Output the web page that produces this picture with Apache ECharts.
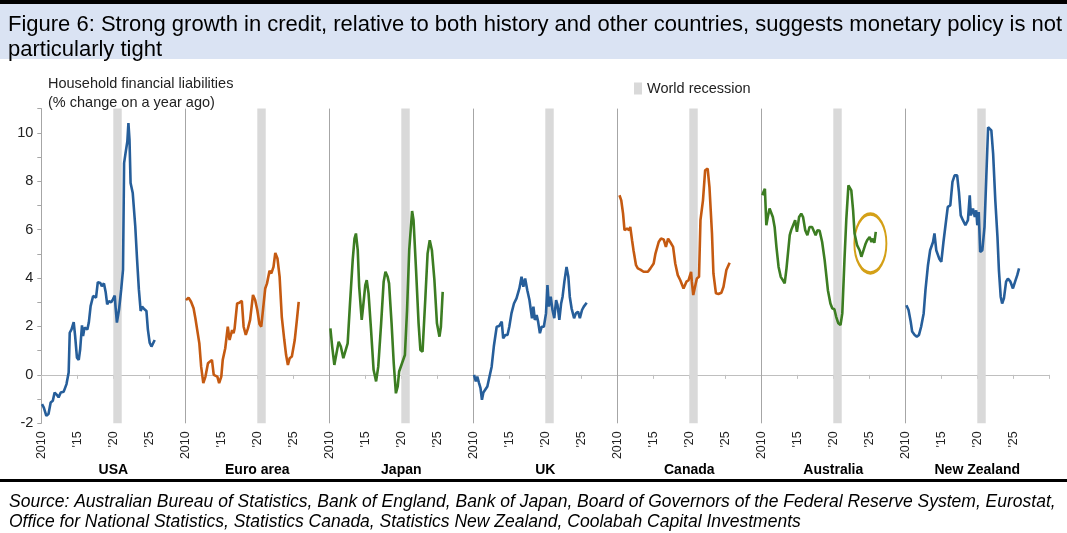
<!DOCTYPE html>
<html><head><meta charset="utf-8">
<script src="https://cdn.jsdelivr.net/npm/echarts@6/dist/echarts.min.js"></script>
<style>html,body{margin:0;padding:0;background:#fff}#c{width:1067px;height:533px}</style>
</head><body><div id="c"></div>
<script>
const countries = ['USA','Euro area','Japan','UK','Canada','Australia','New Zealand'];
const yearTickLabels = ['2010',"'15","'20","'25"];
const recessionStart = 2020.0, recessionEnd = 2021.17;
const circleCenter = [2025.15, 5.43];

const usa = [[2010.1,-1.21],[2010.35,-1.35],[2010.7,-1.69],[2011.0,-1.62],[2011.3,-1.14],[2011.6,-1.07],[2011.85,-0.73],[2012.2,-0.84],[2012.4,-0.93],[2012.7,-0.73],[2012.9,-0.8],[2013.1,-0.7],[2013.5,-0.38],[2013.8,0.1],[2013.95,1.74],[2014.2,1.88],[2014.5,2.18],[2014.7,1.6],[2014.95,0.71],[2015.2,0.62],[2015.4,1.06],[2015.65,2.05],[2015.8,1.6],[2016.0,1.95],[2016.4,1.88],[2016.6,2.16],[2016.85,2.84],[2017.2,3.26],[2017.4,3.28],[2017.6,3.19],[2017.85,3.83],[2018.2,3.8],[2018.4,3.66],[2018.7,3.78],[2018.95,3.4],[2019.15,2.91],[2019.4,3.05],[2019.7,3.0],[2019.95,3.12],[2020.2,3.28],[2020.3,2.85],[2020.5,2.16],[2020.8,2.7],[2021.1,3.53],[2021.35,4.35],[2021.5,8.75],[2021.7,9.16],[2021.95,9.64],[2022.1,10.4],[2022.25,9.71],[2022.4,7.93],[2022.7,7.51],[2023.05,6.14],[2023.3,4.77],[2023.55,3.53],[2023.8,2.64],[2024.0,2.82],[2024.25,2.73],[2024.6,2.64],[2024.8,1.88],[2025.05,1.33],[2025.3,1.17],[2025.5,1.2],[2025.75,1.44]];
const euro = [[2010.1,3.09],[2010.45,3.19],[2010.8,3.02],[2011.15,2.75],[2011.4,2.34],[2011.6,2.29],[2011.95,1.3],[2012.2,0.34],[2012.5,-0.34],[2012.8,-0.07],[2013.15,0.48],[2013.4,0.41],[2013.7,0.62],[2013.95,0.0],[2014.2,-0.07],[2014.45,-0.07],[2014.7,-0.34],[2015.0,-0.07],[2015.2,0.62],[2015.55,1.1],[2015.9,1.99],[2016.15,1.44],[2016.5,1.85],[2016.7,1.72],[2016.85,1.92],[2017.2,2.95],[2017.5,2.98],[2017.85,3.06],[2018.1,1.99],[2018.4,1.65],[2018.7,1.92],[2019.0,2.27],[2019.4,3.3],[2019.7,3.09],[2020.0,2.68],[2020.3,2.1],[2020.55,1.99],[2020.8,2.02],[2021.1,3.57],[2021.35,3.78],[2021.6,3.85],[2021.7,4.3],[2021.95,4.19],[2022.25,4.46],[2022.5,5.04],[2022.8,4.81],[2023.1,4.05],[2023.4,2.4],[2023.75,1.44],[2024.0,0.82],[2024.25,0.41],[2024.5,0.69],[2024.8,0.76],[2025.2,1.44],[2025.5,2.27],[2025.75,3.02]];
const japan = [[2010.15,1.92],[2010.4,1.17],[2010.7,0.41],[2011.0,0.89],[2011.3,1.37],[2011.6,1.17],[2011.95,0.69],[2012.2,0.62],[2012.55,1.3],[2012.85,2.82],[2013.25,4.74],[2013.5,5.63],[2013.7,5.84],[2013.95,5.15],[2014.15,3.64],[2014.5,2.27],[2014.7,2.82],[2015.0,3.71],[2015.2,3.91],[2015.45,3.37],[2015.8,1.85],[2016.15,0.21],[2016.5,-0.27],[2016.8,0.34],[2017.2,2.13],[2017.55,3.85],[2017.8,4.26],[2018.1,4.05],[2018.3,3.78],[2018.65,2.13],[2018.95,0.48],[2019.25,-0.76],[2019.5,-0.48],[2019.7,0.14],[2020.1,0.48],[2020.5,0.82],[2020.8,2.68],[2021.1,5.15],[2021.5,6.77],[2021.7,6.39],[2022.05,4.33],[2022.4,2.13],[2022.65,1.03],[2022.95,0.96],[2023.35,3.23],[2023.65,5.01],[2023.95,5.56],[2024.25,5.15],[2024.6,3.91],[2024.95,2.13],[2025.3,1.58],[2025.5,1.99],[2025.75,3.43]];
const uk = [[2010.1,0.0],[2010.35,-0.27],[2010.55,-0.07],[2010.8,-0.34],[2011.0,-0.55],[2011.2,-1.03],[2011.4,-0.73],[2011.65,-0.69],[2011.95,-0.48],[2012.2,-0.14],[2012.55,0.34],[2012.85,1.17],[2013.25,1.99],[2013.6,2.02],[2013.95,2.2],[2014.15,1.51],[2014.45,1.65],[2014.75,1.65],[2015.0,1.99],[2015.3,2.54],[2015.65,2.95],[2016.0,3.16],[2016.4,3.57],[2016.7,4.05],[2016.95,3.64],[2017.2,3.98],[2017.5,3.5],[2017.8,3.09],[2017.95,3.12],[2018.15,2.34],[2018.35,2.82],[2018.55,2.27],[2018.8,2.47],[2019.0,2.2],[2019.25,1.72],[2019.5,1.99],[2019.8,1.99],[2020.1,2.54],[2020.3,3.71],[2020.5,2.82],[2020.75,3.23],[2021.0,2.68],[2021.25,2.34],[2021.5,3.09],[2021.7,2.88],[2021.95,2.27],[2022.2,2.95],[2022.4,3.23],[2022.65,3.85],[2022.95,4.46],[2023.2,4.05],[2023.4,3.23],[2023.65,2.75],[2024.0,2.34],[2024.25,2.54],[2024.55,2.61],[2024.8,2.34],[2025.1,2.68],[2025.35,2.82],[2025.75,2.98]];
const canada = [[2010.3,7.42],[2010.55,7.21],[2010.8,6.66],[2011.0,5.98],[2011.35,6.04],[2011.65,5.98],[2011.8,6.11],[2012.05,5.56],[2012.25,5.15],[2012.6,4.53],[2012.85,4.4],[2013.2,4.35],[2013.65,4.26],[2014.25,4.26],[2014.6,4.4],[2015.05,4.6],[2015.3,5.01],[2015.75,5.49],[2016.05,5.63],[2016.45,5.59],[2016.75,5.29],[2017.05,5.63],[2017.35,5.49],[2017.75,5.29],[2018.05,4.6],[2018.4,4.12],[2018.75,3.91],[2019.0,3.85],[2019.2,3.57],[2019.6,3.85],[2019.9,3.91],[2020.25,4.26],[2020.35,3.85],[2020.55,3.3],[2020.85,3.71],[2021.05,3.98],[2021.35,4.05],[2021.55,6.39],[2021.9,7.21],[2022.2,8.45],[2022.55,8.52],[2022.8,7.76],[2023.15,5.84],[2023.35,4.19],[2023.7,3.37],[2024.05,3.34],[2024.45,3.39],[2024.75,3.64],[2025.15,4.33],[2025.6,4.63]];
const australia = [[2010.15,7.42],[2010.3,7.55],[2010.5,7.69],[2010.7,6.18],[2010.9,6.52],[2011.15,6.87],[2011.4,6.94],[2011.6,6.52],[2011.85,6.11],[2012.1,5.29],[2012.4,4.46],[2012.7,4.05],[2013.0,3.91],[2013.25,3.78],[2013.5,4.4],[2013.7,4.46],[2013.95,5.77],[2014.15,5.98],[2014.4,6.04],[2014.7,6.39],[2014.95,5.91],[2015.25,6.52],[2015.55,6.66],[2015.8,6.52],[2016.1,5.98],[2016.4,5.77],[2016.7,6.11],[2017.05,6.11],[2017.3,6.04],[2017.55,5.77],[2017.8,5.98],[2018.1,5.95],[2018.45,5.49],[2018.8,4.74],[2019.0,4.19],[2019.25,3.5],[2019.6,2.95],[2019.85,2.75],[2020.15,2.71],[2020.4,2.4],[2020.7,2.13],[2021.0,2.06],[2021.25,2.54],[2021.55,4.74],[2021.8,6.39],[2022.1,7.83],[2022.25,7.9],[2022.5,7.62],[2022.75,6.8],[2022.95,5.84],[2023.3,5.36],[2023.65,5.15],[2023.9,4.88],[2024.2,5.15],[2024.5,5.43],[2024.7,5.56],[2025.05,5.7],[2025.3,5.49],[2025.5,5.63],[2025.7,5.45],[2025.9,5.91]];
const newZealand = [[2010.15,2.88],[2010.45,2.68],[2010.75,2.2],[2010.95,1.79],[2011.3,1.65],[2011.6,1.58],[2011.9,1.65],[2012.2,1.99],[2012.55,2.54],[2012.8,3.5],[2013.15,4.53],[2013.45,5.15],[2013.85,5.49],[2014.05,5.84],[2014.3,5.15],[2014.7,4.81],[2015.0,4.67],[2015.3,5.49],[2015.7,6.46],[2015.9,6.94],[2016.25,7.0],[2016.55,7.97],[2016.85,8.24],[2017.2,8.24],[2017.45,7.55],[2017.7,6.59],[2018.0,6.39],[2018.35,6.18],[2018.7,6.39],[2018.95,7.42],[2019.1,6.59],[2019.4,6.87],[2019.65,6.52],[2019.85,6.8],[2020.0,6.18],[2020.2,6.73],[2020.4,5.08],[2020.7,5.15],[2021.0,6.11],[2021.25,8.17],[2021.5,10.23],[2021.7,10.3],[2021.95,10.1],[2022.2,9.13],[2022.5,7.21],[2022.8,5.7],[2023.0,4.33],[2023.25,3.23],[2023.45,2.95],[2023.7,3.16],[2024.0,3.85],[2024.25,3.98],[2024.6,3.85],[2024.95,3.57],[2025.25,3.85],[2025.55,4.12],[2025.8,4.4]];

const seriesValues = [usa, euro, japan, uk, canada, australia, newZealand];
const lineColors = ['#265e9a','#c55a11','#3c7d22','#265e9a','#c55a11','#3c7d22','#265e9a'];
const SPAN = 20, BASE = 2010;
const FONT = '"Liberation Sans", Arial, sans-serif';

const chart = echarts.init(document.getElementById('c'), null, {renderer: 'canvas'});

const series = seriesValues.map((pts, i) => ({
  type: 'line', name: countries[i], xAxisIndex: 0, yAxisIndex: 0,
  data: pts.map(p => [i * SPAN + (p[0] - BASE), p[1]]),
  showSymbol: false, symbol: 'none', smooth: false,
  lineStyle: {color: lineColors[i], width: 2.6},
  itemStyle: {color: lineColors[i]},
  z: 5, silent: true
}));
// annotation circle on Australia
series[5].markPoint = {
  silent: true, symbol: 'circle', symbolSize: [32, 59],
  label: {show: false},
  itemStyle: {color: 'rgba(0,0,0,0)', borderColor: '#d4a017', borderWidth: 2.6},
  data: [{coord: [5 * SPAN + (circleCenter[0] - BASE), circleCenter[1]]}]
};
// recession bars + separators
series.push({
  type: 'line', name: 'World recession', xAxisIndex: 0, yAxisIndex: 0, data: [],
  itemStyle: {color: '#d9d9d9'}, lineStyle: {color: '#d9d9d9'},
  markArea: {silent: true, itemStyle: {color: '#d9d9d9'},
    data: countries.map((c, i) => [{xAxis: i * SPAN + (recessionStart - BASE)}, {xAxis: i * SPAN + (recessionEnd - BASE)}])},
  markLine: {silent: true, symbol: 'none', label: {show: false},
    lineStyle: {color: '#a6a6a6', width: 1, type: 'solid'},
    data: countries.slice(1).map((c, i) => ({xAxis: (i + 1) * SPAN}))},
  z: 1
});

chart.setOption({
  animation: false,
  textStyle: {fontFamily: FONT},
  graphic: [
    {type: 'rect', shape: {x: 0, y: 0, width: 1067, height: 59}, style: {fill: '#dae3f3'}, z: -10},
    {type: 'rect', shape: {x: 0, y: 0, width: 1067, height: 4}, style: {fill: '#000'}, z: -9},
    {type: 'rect', shape: {x: 0, y: 479, width: 1067, height: 3}, style: {fill: '#000'}, z: -9}
  ],
  title: [
    {text: 'Figure 6: Strong growth in credit, relative to both history and other countries, suggests monetary policy is not\nparticularly tight',
     left: 3, top: 7, textStyle: {fontFamily: FONT, fontSize: 22, fontWeight: 'normal', color: '#000', lineHeight: 25}},
    {text: 'Household financial liabilities\n(% change on a year ago)', left: 43, top: 69,
     textStyle: {fontFamily: FONT, fontSize: 14.5, fontWeight: 'normal', color: '#222', lineHeight: 19}},
    {text: 'Source: Australian Bureau of Statistics, Bank of England, Bank of Japan, Board of Governors of the Federal Reserve System, Eurostat,\nOffice for National Statistics, Statistics Canada, Statistics New Zealand, Coolabah Capital Investments',
     left: 4, top: 487, textStyle: {fontFamily: FONT, fontSize: 17.5, fontStyle: 'italic', fontWeight: 'normal', color: '#000', lineHeight: 20}}
  ],
  legend: {data: ['World recession'], left: 629, top: 76, icon: 'rect', itemWidth: 8, itemHeight: 12, itemGap: 4,
    textStyle: {fontFamily: FONT, fontSize: 14.5, color: '#222'}, selectedMode: false},
  grid: {left: 41.3, right: 17.7, top: 108.6, bottom: 109.7, containLabel: false},
  xAxis: [
    {type: 'value', min: 0, max: SPAN * countries.length, interval: 5, position: 'bottom',
     axisLine: {show: false, onZero: false}, axisTick: {show: false}, splitLine: {show: false},
     axisLabel: {rotate: 90, margin: 8, fontSize: 12.5, color: '#222', fontFamily: FONT,
       formatter: v => (v >= SPAN * countries.length) ? '' : yearTickLabels[Math.round(v % SPAN / 5)]}},
    {type: 'value', min: 0, max: SPAN * countries.length, interval: 5, position: 'top',
     axisLine: {show: true, onZero: true, lineStyle: {color: '#bfbfbf', width: 1.2}},
     axisTick: {show: true, inside: true, length: 4, lineStyle: {color: '#bfbfbf'}},
     axisLabel: {show: false}, splitLine: {show: false}},
    {type: 'category', data: countries, position: 'bottom', boundaryGap: true,
     axisLine: {show: false, onZero: false}, axisTick: {show: false},
     axisLabel: {interval: 0, margin: 40, fontSize: 14, fontWeight: 'bold', color: '#000', fontFamily: FONT}}
  ],
  yAxis: {type: 'value', min: -2, max: 11, interval: 1,
    axisLine: {show: true, onZero: false, lineStyle: {color: '#a6a6a6', width: 1}},
    axisTick: {show: true, length: 4, lineStyle: {color: '#a6a6a6'}},
    splitLine: {show: false},
    axisLabel: {fontSize: 14.5, color: '#222', margin: 8, fontFamily: FONT,
      formatter: v => (Math.round(v) % 2 === 0) ? String(v) : ''}},
  series: series
});
</script></body></html>
